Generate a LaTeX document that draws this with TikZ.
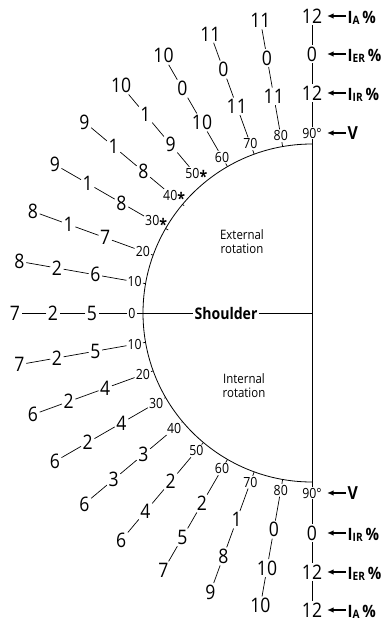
\documentclass[tikz,border=0pt]{standalone}
\usepackage{fontspec}
\setmainfont[FakeStretch=0.88]{Open Sans}
\usetikzlibrary{arrows.meta}
\newcommand\subx[1]{\raisebox{-1.8pt}{\fontsize{11.5}{11.5}\selectfont\bfseries #1}}
\newcommand\strx{\raisebox{-4.2pt}{\fontsize{16}{16}\selectfont\bfseries *}}
\tikzset{
  bignum/.style={font=\fontsize{20}{20}\selectfont, inner sep=1.5pt},
  angnum/.style={font=\fontsize{14}{14}\selectfont, inner sep=1pt},
  ray/.style={line width=0.7pt},
  sidelab/.style={font=\fontsize{17}{17}\selectfont\bfseries, anchor=base west, inner sep=1.5pt},
  vlab/.style={font=\fontsize{18}{18}\selectfont\bfseries, anchor=west, inner sep=1.5pt},
  arr/.style={-{Latex[length=6.5pt,width=5.5pt]}, line width=1.3pt},
  rottext/.style={font=\fontsize{13}{14}\selectfont, align=center}
}
\begin{document}
\begin{tikzpicture}[x=1pt,y=1pt]
\useasboundingbox (0,0) rectangle (388,-621);
\coordinate (C) at (312,-313);
\coordinate (tipx) at (327,0);
\coordinate (labx) at (346,0);
% external rotation rays
\foreach \a/\p/\q/\s/\t in {0/0/5/2/7, 10/10/6/2/8, 20/20/7/1/8, 30/30\strx/8/1/9, 40/40\strx/8/1/9, 50/50\strx/9/1/10, 60/60/10/0/10, 70/70/11/0/11, 80/80/11/0/11, 90/90°/12/0/12}{
  \path (C) ++(180-\a:169pt) coordinate (uo\a);
  \path (C) ++(180-\a:180pt) node[angnum] (ua\a) {\p};
  \path (C) ++(180-\a:220pt) node[bignum] (ub\a) {\q};
  \path (C) ++(180-\a:259pt) node[bignum] (uc\a) {\s};
  \path (C) ++(180-\a:297pt) node[bignum] (ud\a) {\t};
  \draw[ray] (uo\a) -- (ua\a) -- (ub\a) -- (uc\a) -- (ud\a);
}
% internal rotation rays
\foreach \a/\p/\q/\s/\t in {10/10/5/2/7, 20/20/4/2/6, 30/30/4/2/6, 40/40/3/3/6, 50/50/2/4/6, 60/60/2/5/7, 70/70/1/8/9, 80/80/0/10/10, 90/90°/0/12/12}{
  \path (C) ++(180+\a:169pt) coordinate (lo\a);
  \path (C) ++(180+\a:180pt) node[angnum] (la\a) {\p};
  \path (C) ++(180+\a:220pt) node[bignum] (lb\a) {\q};
  \path (C) ++(180+\a:259pt) node[bignum] (lc\a) {\s};
  \path (C) ++(180+\a:297pt) node[bignum] (ld\a) {\t};
  \draw[ray] (lo\a) -- (la\a) -- (lb\a) -- (lc\a) -- (ld\a);
}
% semicircle and diameter
\draw[line width=0.8pt] (uo90) arc[start angle=90, end angle=270, radius=169pt];
\draw[ray] (uo90) -- (lo90);
\node[font=\fontsize{16}{16}\selectfont\bfseries, inner sep=1pt] (sh) at (226,-313) {Shoulder};
\draw[ray] (uo0) -- (sh) -- (C);
\node[rottext] (ext) at (242,-242) {External\\rotation};
\node[rottext] (int) at (244,-386) {Internal\\rotation};
% right-hand labels, top
\node[sidelab, yshift=-7.1pt] (tA) at (ud90 -| labx) {I\subx{A}\,\%};
\node[sidelab, yshift=-7.1pt] (tER) at (uc90 -| labx) {I\subx{ER}\,\%};
\node[sidelab, yshift=-7.1pt] (tIR) at (ub90 -| labx) {I\subx{IR}\,\%};
\node[vlab] (tV) at (ua90 -| labx) {V};
\coordinate (tAt) at (ud90 -| tipx);
\coordinate (tERt) at (uc90 -| tipx);
\coordinate (tIRt) at (ub90 -| tipx);
\coordinate (tVt) at (ua90 -| tipx);
\draw[arr] (tA.west |- tAt) -- (tAt);
\draw[arr] (tER.west |- tERt) -- (tERt);
\draw[arr] (tIR.west |- tIRt) -- (tIRt);
\draw[arr] (tV.west) -- (tVt);
% right-hand labels, bottom
\node[vlab] (bV) at (la90 -| labx) {V};
\node[sidelab, yshift=-7.1pt] (bIR) at (lb90 -| labx) {I\subx{IR}\,\%};
\node[sidelab, yshift=-7.1pt] (bER) at (lc90 -| labx) {I\subx{ER}\,\%};
\node[sidelab, yshift=-7.1pt] (bA) at (ld90 -| labx) {I\subx{A}\,\%};
\coordinate (bVt) at (la90 -| tipx);
\coordinate (bIRt) at (lb90 -| tipx);
\coordinate (bERt) at (lc90 -| tipx);
\coordinate (bAt) at (ld90 -| tipx);
\draw[arr] (bV.west) -- (bVt);
\draw[arr] (bIR.west |- bIRt) -- (bIRt);
\draw[arr] (bER.west |- bERt) -- (bERt);
\draw[arr] (bA.west |- bAt) -- (bAt);
\end{tikzpicture}
\end{document}
